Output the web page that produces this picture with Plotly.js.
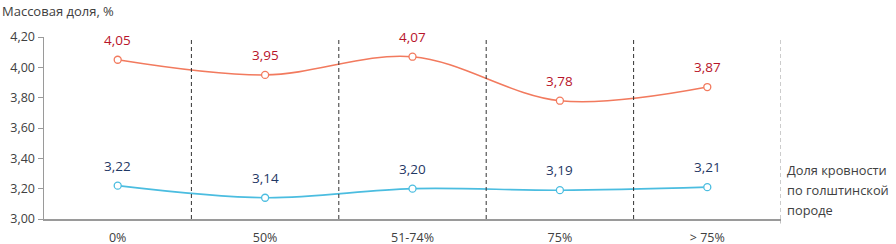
<!DOCTYPE html>
<html><head><meta charset="utf-8">
<script src="https://cdn.plot.ly/plotly-3.0.1.min.js"></script>
<style>body{margin:0;background:#fff}#c{width:896px;height:244px}</style>
</head><body><div id="c"></div>
<script>
const categories = ['0%', '50%', '51-74%', '75%', '> 75%'];
const fatValues = [4.05, 3.95, 4.07, 3.78, 3.87];
const proteinValues = [3.22, 3.14, 3.20, 3.19, 3.21];
const yTicks = [3.00, 3.20, 3.40, 3.60, 3.80, 4.00, 4.20];
const xTitleLines = ['Доля кровности', 'по голштинской', 'породе'];

const fmt = v => v.toFixed(2).replace('.', ',');
const FONT = 'Open Sans, Noto Sans, sans-serif';
const idx = categories.map((c, i) => i);

function series(vals, lineColor) {
  return {
    x: idx, y: vals, type: 'scatter', mode: 'lines+markers',
    line: {color: lineColor, width: 1.6, shape: 'spline', smoothing: 1},
    marker: {symbol: 'circle', size: 7, color: '#fff', line: {color: lineColor, width: 1.3}},
    cliponaxis: false, hoverinfo: 'skip'
  };
}
function labels(vals, textColor) {
  return vals.map((v, i) => ({
    x: i, y: v, xref: 'x', yref: 'y', text: fmt(v), showarrow: false,
    yshift: 20, font: {family: FONT, size: 13.5, color: textColor}
  }));
}

const shapes = idx.map(i => ({
  type: 'line', xref: 'x', yref: 'paper', x0: i + 0.5, x1: i + 0.5, y0: 0, y1: 1,
  line: {color: i === idx.length - 1 ? '#999' : '#333', width: 1, dash: '4px,3px'}
}));
shapes.push({type: 'line', xref: 'x', yref: 'paper', x0: idx.length - 0.5, x1: idx.length - 0.5,
  y0: 0, y1: -0.025, line: {color: '#9a9a9a', width: 1.2}});

const titleLines = xTitleLines.map((t, k) => ({
  text: t, xref: 'paper', yref: 'paper', x: 1, xshift: 4, y: 0, yshift: 49 - 20 * k,
  xanchor: 'left', yanchor: 'middle', align: 'left', showarrow: false,
  font: {family: FONT, size: 12.8, color: '#404040'}
}));

const layout = {
  width: 896, height: 244,
  margin: {l: 44, r: 115, t: 37, b: 25},
  paper_bgcolor: '#fff', plot_bgcolor: '#fff',
  showlegend: false,
  font: {family: FONT, size: 13, color: '#404040'},
  xaxis: {
    range: [-0.5, 4.5], tickvals: idx, ticktext: categories,
    showgrid: false, zeroline: false, showline: true, linecolor: '#9a9a9a', linewidth: 1.5,
    ticks: '', ticklabelstandoff: 6, tickfont: {family: FONT, size: 12.5, color: '#404040'}, fixedrange: true
  },
  yaxis: {
    range: [3.0, 4.2], tickvals: yTicks, ticktext: yTicks.map(fmt),
    showgrid: false, zeroline: false, showline: true, linecolor: '#9a9a9a', linewidth: 1.5,
    ticks: 'outside', ticklen: 5, tickcolor: '#9a9a9a', tickwidth: 1,
    tickfont: {family: FONT, size: 12.5, color: '#404040'}, fixedrange: true
  },
  shapes: shapes,
  annotations: [
    {text: 'Массовая доля, %', xref: 'paper', yref: 'paper', x: -44/737, y: 1, yshift: 37,
     xanchor: 'left', yanchor: 'top', showarrow: false, font: {family: FONT, size: 13, color: '#404040'}}
  ].concat(titleLines, labels(fatValues, '#b8142a'), labels(proteinValues, '#1f3864'))
};

Plotly.newPlot('c', [
  series(fatValues, '#f27a5e'),
  series(proteinValues, '#4bbde0')
], layout, {displayModeBar: false, staticPlot: true});
</script></body></html>
